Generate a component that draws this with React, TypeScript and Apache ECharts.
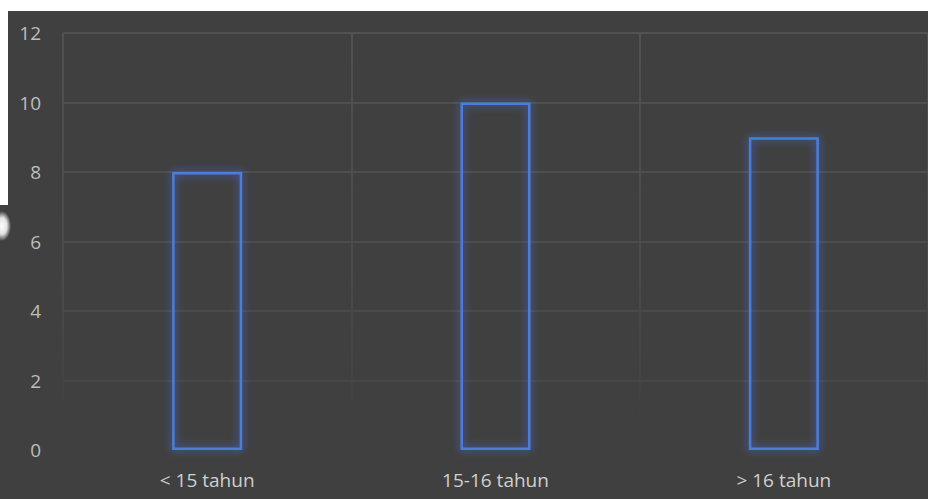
import React, { useEffect, useRef } from "react";
import * as echarts from "echarts";

const categories = ["< 15 tahun", "15-16 tahun", "> 16 tahun"];
const values = [8, 10, 9];
const yMin = 0;
const yMax = 12;
const yStep = 2;

export default function App() {
  const ref = useRef<HTMLDivElement>(null);
  useEffect(() => {
    if (!ref.current) return;
    const chart = echarts.init(ref.current, null, { renderer: "svg" });
    chart.setOption({
      animation: false,
      backgroundColor: "#404040",
      grid: { left: 63, right: -2, top: 33, bottom: 49, containLabel: false },
      xAxis: {
        type: "category",
        data: categories,
        axisLine: { show: false },
        axisTick: { show: false },
        axisLabel: {
          color: "#d0d0d0",
          fontSize: 19,
          fontFamily: "Open Sans",
          margin: 20,
        },
        splitLine: {
          show: true,
          interval: 0,
          lineStyle: {
            width: 1.5,
            color: new echarts.graphic.LinearGradient(0, 33, 0, 450, [
              { offset: 0, color: "#565656" },
              { offset: 0.6, color: "#4e4e4e" },
              { offset: 0.95, color: "#404040" },
              { offset: 1, color: "#404040" },
            ], true),
          },
        },
      },
      yAxis: {
        type: "value",
        min: yMin,
        max: yMax,
        interval: yStep,
        axisLine: { show: false },
        axisTick: { show: false },
        axisLabel: {
          color: "#bdbdbd",
          fontSize: 19,
          fontFamily: "Open Sans",
          margin: 22,
        },
        splitLine: {
          lineStyle: {
            width: 1.5,
            color: ["#404040", "#4b4b4b", "#4e4e4e", "#515151", "#535353", "#555555", "#575757"],
          },
        },
      },
      graphic: [
        { type: "rect", shape: { x: 0, y: 0, width: 928, height: 11 }, style: { fill: "#ffffff" }, z: 100 },
        { type: "rect", shape: { x: 0, y: 0, width: 8, height: 205 }, style: { fill: "#ffffff" }, z: 100 },
        {
          type: "ellipse",
          shape: { cx: 2, cy: 226, rx: 9, ry: 15 },
          style: {
            fill: new echarts.graphic.RadialGradient(0.5, 0.5, 0.5, [
              { offset: 0, color: "rgba(255,255,255,1)" },
              { offset: 0.55, color: "rgba(255,255,255,0.85)" },
              { offset: 1, color: "rgba(255,255,255,0)" },
            ]),
          },
          z: 100,
        },
      ],
      series: [
        {
          type: "bar",
          data: values,
          barWidth: 70,
          itemStyle: {
            color: "rgba(0,0,0,0)",
            borderColor: "#4a7ee0",
            borderWidth: 2.5,
            shadowBlur: 8,
            shadowColor: "rgba(70,120,230,0.9)",
          },
        },
      ],
    });
    return () => chart.dispose();
  }, []);
  return (
    <div
      ref={ref}
      style={{ position: "absolute", left: 0, top: 0, width: 928, height: 499 }}
    />
  );
}
